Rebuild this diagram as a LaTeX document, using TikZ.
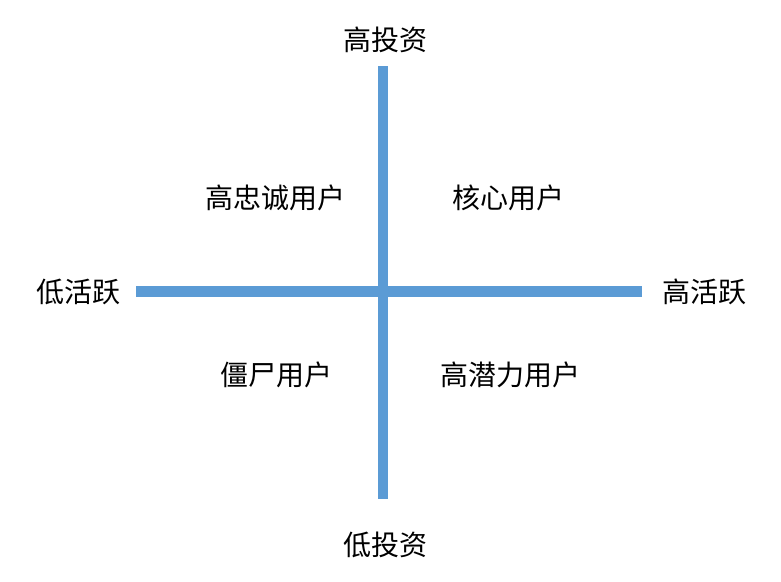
\documentclass[tikz,border=0pt]{standalone}
\usepackage{fontspec}
\newfontfamily\cjk{Noto Sans CJK SC}
\definecolor{axisblue}{HTML}{5B9BD5}
\tikzset{
  axis/.style={draw=axisblue, line width=10.5pt},
  lab/.style={font=\cjk\fontsize{28}{31}\selectfont, text=black, inner sep=0pt, anchor=center},
}
\begin{document}
\begin{tikzpicture}[x=1pt,y=-1pt]
\useasboundingbox[fill=white] (0,0) rectangle (781,581);
\coordinate (vt) at (383,66);
\coordinate (vb) at (383,499);
\coordinate (hl) at (136,291.5);
\coordinate (hr) at (642,291.5);
\draw[axis] (vt) -- (vb);
\draw[axis] (hl) -- (hr);
\node[lab] (top) at (385,40) {高投资};
\node[lab] (bot) at (385,545) {低投资};
\node[lab] (left) at (78.5,292) {低活跃};
\node[lab] (right) at (704,292) {高活跃};
\node[lab] (q2) at (275.5,198) {高忠诚用户};
\node[lab] (q1) at (508,198) {核心用户};
\node[lab] (q3) at (276,375) {僵尸用户};
\node[lab] (q4) at (510,375) {高潜力用户};
\end{tikzpicture}
\end{document}
